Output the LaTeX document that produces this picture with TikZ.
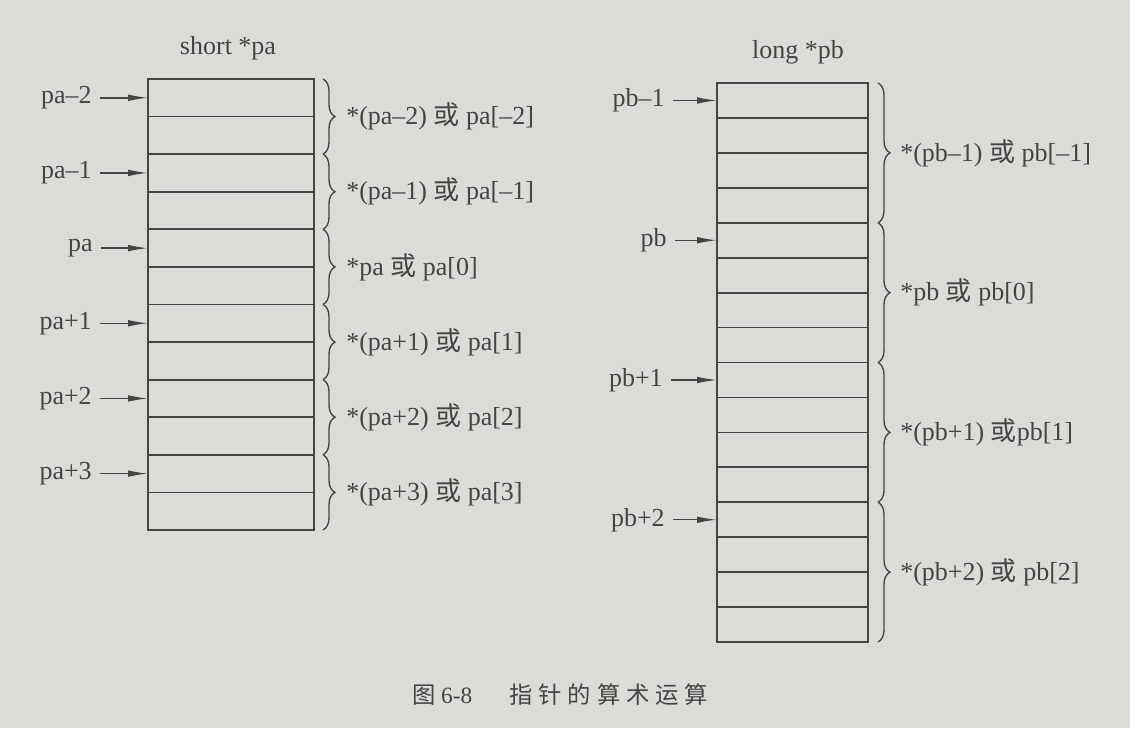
\documentclass[tikz,border=0pt]{standalone}
\usepackage{fontspec}
\setmainfont{Liberation Serif}
\newfontfamily\cjk{Noto Sans CJK SC}
\newfontfamily\cjkcap[LetterSpace=25]{Noto Sans CJK SC}
\usetikzlibrary{arrows.meta,decorations.pathreplacing}
\definecolor{paper}{RGB}{221,219,216}
\definecolor{ink}{RGB}{68,68,68}
\begin{document}
\begin{tikzpicture}[x=0.75pt,y=-0.75pt,
  cell/.style={draw=ink, line width=1.3pt},
  ptr/.style={font=\fontsize{19.5}{22}\selectfont, text=ink, anchor=east, inner sep=0pt},
  lbl/.style={font=\fontsize{19.5}{22}\selectfont, text=ink, anchor=west, inner sep=0pt},
  ttl/.style={font=\fontsize{19.5}{22}\selectfont, text=ink, inner sep=0pt},
  ptrarrow/.style={draw=ink, fill=ink, -{Latex[length=15pt,width=5pt]}, line width=1.1pt},
  brc/.style={draw=ink, decorate, decoration={brace, amplitude=9pt}, line width=1pt}]
\fill[paper] (0,0) rectangle (1130,728);
\useasboundingbox (0,0) rectangle (1130,728);

% ---------- left array (short *pa) ----------
\def\lh{37.58}
\node[ttl] (tA) at (228,48) {short *pa};
\draw[cell] (148,79) rectangle (314,530);
\foreach \i in {1,...,11} \draw[cell] (148,{79+\i*\lh}) -- (314,{79+\i*\lh});
\foreach \k in {0,...,5} {
  \coordinate (la\k) at (148,{79+(2*\k+0.5)*\lh});
}
\node[ptr] (pa0) at (92,{79+0.5*\lh}) {pa–2};
\node[ptr] (pa1) at (92,{79+2.5*\lh}) {pa–1};
\node[ptr] (pa2) at (93,{79+4.5*\lh}) {pa};
\node[ptr] (pa3) at (92,{79+6.5*\lh}) {pa+1};
\node[ptr] (pa4) at (92,{79+8.5*\lh}) {pa+2};
\node[ptr] (pa5) at (92,{79+10.5*\lh}) {pa+3};
\foreach \k in {0,...,5} \draw[ptrarrow] ([xshift=6pt]pa\k.east) -- (la\k);
\foreach \k in {0,...,5} \draw[brc] (323,{79+2*\k*\lh}) -- (323,{79+(2*\k+2)*\lh});
\node[lbl] (ea0) at (346,{79+1*\lh}) {*(pa–2) {\cjk 或} pa[–2]};
\node[lbl] (ea1) at (346,{79+3*\lh}) {*(pa–1) {\cjk 或} pa[–1]};
\node[lbl] (ea2) at (346,{79+5*\lh}) {*pa {\cjk 或} pa[0]};
\node[lbl] (ea3) at (346,{79+7*\lh}) {*(pa+1) {\cjk 或} pa[1]};
\node[lbl] (ea4) at (346,{79+9*\lh}) {*(pa+2) {\cjk 或} pa[2]};
\node[lbl] (ea5) at (346,{79+11*\lh}) {*(pa+3) {\cjk 或} pa[3]};

% ---------- right array (long *pb) ----------
\def\rh{34.94}
\node[ttl] (tB) at (798,52) {long *pb};
\draw[cell] (717,83) rectangle (868,642);
\foreach \i in {1,...,15} \draw[cell] (717,{83+\i*\rh}) -- (868,{83+\i*\rh});
\foreach \k in {0,...,3} {
  \coordinate (lb\k) at (717,{83+(4*\k+0.5)*\rh});
}
\node[ptr] (pb0) at (665,{83+0.5*\rh}) {pb–1};
\node[ptr] (pb1) at (667,{83+4.5*\rh}) {pb};
\node[ptr] (pb2) at (663,{83+8.5*\rh}) {pb+1};
\node[ptr] (pb3) at (665,{83+12.5*\rh}) {pb+2};
\foreach \k in {0,...,3} \draw[ptrarrow] ([xshift=6pt]pb\k.east) -- (lb\k);
\foreach \k in {0,...,3} \draw[brc] (878,{83+4*\k*\rh}) -- (878,{83+(4*\k+4)*\rh});
\node[lbl] (eb0) at (900,{83+2*\rh}) {*(pb–1) {\cjk 或} pb[–1]};
\node[lbl] (eb1) at (900,{83+6*\rh}) {*pb {\cjk 或} pb[0]};
\node[lbl] (eb2) at (900,{83+10*\rh}) {*(pb+1) {\cjk 或}pb[1]};
\node[lbl] (eb3) at (900,{83+14*\rh}) {*(pb+2) {\cjk 或} pb[2]};

% ---------- caption ----------
\node[text=ink, inner sep=0pt, font=\fontsize{17.5}{20}\selectfont] (cap) at (560,695)
  {{\cjk 图} 6-8\hspace{1.6em}{\cjkcap 指针的算术运算}};
\end{tikzpicture}
\end{document}
